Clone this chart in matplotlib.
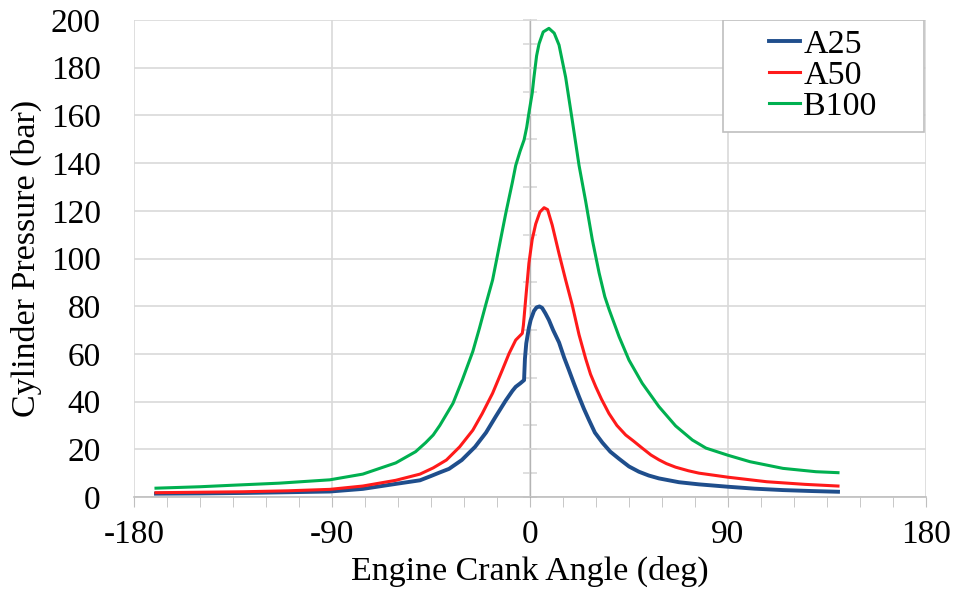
import numpy as np
import matplotlib.pyplot as plt
from matplotlib.patches import Rectangle
from matplotlib.ticker import MultipleLocator

plt.rcParams['font.family'] = ['Liberation Serif', 'DejaVu Serif']
plt.rcParams['axes.unicode_minus'] = False

# values (crank angle in deg, pressure in bar)
a25_x = [-170, -150, -130, -110, -91, -76, -61, -50, -45, -41, -36.8, -31, -25, -20, -15.6,
         -11, -8, -6.5, -4.5, -2.7, -2.3, -1.7, -0.5, 0.3, 1.8, 3, 4.3, 5.5, 7, 8.6, 10.5,
         13.2, 15.5, 17.7, 20, 22.3, 24.5, 26.8, 29.5, 32.9, 36.5, 40.5, 45, 49.5, 54, 58.6,
         67.7, 76.8, 90, 102, 115, 128, 140]
a25_y = [1.4, 1.5, 1.7, 2.0, 2.3, 3.4, 5.5, 7.0, 8.8, 10.3, 11.8, 15.5, 21.0, 27.0, 33.7,
         40.5, 44.5, 46.2, 47.6, 49.0, 58.0, 64.4, 71.0, 74.2, 78.0, 79.5, 79.9, 79.3, 77.0,
         74.2, 70.0, 64.8, 58.5, 53.2, 47.5, 42.0, 37.0, 32.3, 27.0, 22.8, 19.0, 16.0, 12.8,
         10.6, 9.0, 7.8, 6.2, 5.3, 4.3, 3.5, 2.9, 2.5, 2.2]

a50_x = [-170, -150, -130, -110, -91, -76, -61, -50, -44, -38, -32, -26, -21.7, -17, -12.6,
         -9.5, -6.5, -3.5, -3, -2, -0.5, 1, 2.6, 4.5, 6.4, 8, 10.1, 13.2, 16.2, 19.2, 22.3,
         25.3, 27.5, 29.9, 32.5, 35.9, 39.5, 43.5, 47, 51, 55, 58.6, 62, 66.2, 72, 76.8, 90,
         107.6, 125, 140]
a50_y = [1.8, 2.0, 2.2, 2.6, 3.2, 4.6, 7.0, 9.6, 12.2, 15.5, 21.0, 28.0, 35.0, 43.5, 53.2,
         60.2, 65.8, 68.6, 72.0, 82.6, 98.0, 108.0, 114.5, 119.5, 121.3, 120.5, 114.0, 102.0,
         91.0, 80.5, 68.0, 58.0, 51.5, 46.2, 41.0, 35.0, 30.0, 26.0, 23.5, 20.5, 17.6, 15.6,
         14.0, 12.5, 11.0, 10.0, 8.3, 6.4, 5.3, 4.6]

b100_x = [-170, -150, -136, -114, -91, -76, -61, -52, -47.4, -44, -41, -35, -30.8, -26, -23,
          -20, -17, -14, -11, -8, -6.5, -4.5, -2.7, -1.5, -0.5, 1, 1.8, 3, 4.1, 6, 8.6, 11,
          13.2, 16.2, 19.2, 22.3, 25.3, 28.3, 31.4, 34, 36, 40.5, 45, 51, 58.6, 66.2, 73.8, 80,
          90, 100, 115, 130, 140]
b100_y = [3.7, 4.3, 4.9, 5.8, 7.2, 9.6, 14.3, 19.0, 22.8, 26.0, 30.0, 39.3, 49.0, 61.0, 70.7,
          81.0, 91.0, 105.0, 119.0, 132.0, 139.0, 145.0, 149.7, 155.0, 161.0, 169.3, 176.0,
          185.0, 190.0, 195.0, 196.5, 194.5, 189.5, 176.0, 158.0, 139.0, 124.0, 108.0, 94.0,
          84.0, 78.5, 67.2, 57.4, 47.7, 37.9, 29.8, 23.9, 20.5, 17.5, 14.8, 12.0, 10.6, 10.2]

series = [("A25", a25_x, a25_y, "#1f4e8c", 2.8),
          ("A50", a50_x, a50_y, "#ff1a1a", 2.2),
          ("B100", b100_x, b100_y, "#00b050", 2.2)]

fig = plt.figure(figsize=(9.58, 5.96), dpi=100)
ax = fig.add_axes([134 / 958, 1 - 497 / 596, 792 / 958, 477 / 596])

for name, xs, ys, col, lw in series:
    ax.plot(xs, ys, color=col, lw=lw, label=name, solid_joinstyle='round', zorder=3)

ax.set_xlim(-180, 180)
ax.set_ylim(0, 200)
ax.xaxis.set_major_locator(MultipleLocator(90))
ax.xaxis.set_minor_locator(MultipleLocator(15))
ax.yaxis.set_major_locator(MultipleLocator(20))
ax.grid(True, which='major', color='#d9d9d9', lw=1.2, zorder=0)

for s in ['top', 'right', 'left']:
    ax.spines[s].set_visible(False)
ax.spines['bottom'].set_color('#bfbfbf')
ax.spines['bottom'].set_linewidth(1.2)

ax.tick_params(axis='x', which='both', direction='out', length=7, color='#bfbfbf',
               labelsize=24, pad=9)
ax.tick_params(axis='y', which='both', length=0, labelsize=24, pad=24)

# vertical axis crossing at 0 deg
sec = ax.secondary_yaxis(0.5)
sec.spines['left'].set_color('#d9d9d9')
sec.spines['left'].set_linewidth(2.5)
sec.yaxis.set_major_locator(MultipleLocator(10))
sec.tick_params(axis='y', direction='inout', length=10, width=1.2, color='#d9d9d9',
                labelleft=False, labelright=False)

ax.set_xlabel("Engine Crank Angle (deg)", fontsize=24.5, labelpad=4)
ax.set_ylabel("Cylinder Pressure (bar)", fontsize=24.5, labelpad=6)

ax.add_patch(Rectangle((0.744, 0.765), 0.253, 0.235, transform=ax.transAxes,
                       facecolor='white', edgecolor='#bfbfbf', lw=1.2, zorder=5))
ax.legend(loc='center', bbox_to_anchor=(0.87, 0.883), frameon=False, fontsize=24.5,
          handlelength=0.9, handletextpad=0.1, labelspacing=0.0, borderpad=0.2
          ).set_zorder(6)

fig.savefig("out.png", dpi=100)
